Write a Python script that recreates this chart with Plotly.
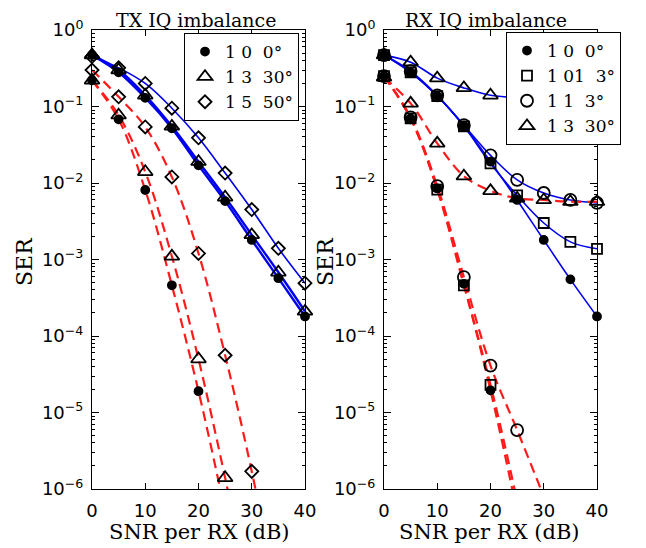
import plotly.graph_objects as go

# ---------------- data ----------------
snr_db = [0, 5, 10, 15, 20, 25, 30, 35, 40]

# TX IQ imbalance panel (blue solid = upper curves, red dashed = lower curves)
tx_labels = ["1\u00a00\u00a0\u00a00°", "1\u00a03\u00a0\u00a030°", "1\u00a05\u00a0\u00a050°"]
tx_symbols = ["circle", "triangle-up-open", "diamond-open"]
tx_blue = [
    [0.47, 0.28, 0.13, 0.052, 0.017, 0.0058, 0.0018, 5.7e-4, 1.8e-4],
    [0.47, 0.30, 0.14, 0.055, 0.019, 0.0065, 0.0021, 6.8e-4, 2.1e-4],
    [0.45, 0.32, 0.20, 0.095, 0.039, 0.0135, 0.0045, 0.0014, 4.9e-4],
]
tx_red = [
    [0.22, 0.068, 0.0081, 4.6e-4, 1.9e-5, 5e-7, 1e-8, None, None],
    [0.22, 0.077, 0.014, 1.1e-3, 5e-5, 1.4e-6, 3e-8, None, None],
    [0.30, 0.134, 0.054, 0.012, 1.2e-3, 5.6e-5, 1.7e-6, 3e-8, None],
]

# RX IQ imbalance panel
rx_labels = ["1\u00a00\u00a0\u00a00°", "1\u00a001\u00a0\u00a03°", "1\u00a01\u00a0\u00a03°", "1\u00a03\u00a0\u00a030°"]
rx_symbols = ["circle", "square-open", "circle-open", "triangle-up-open"]
rx_blue = [
    [0.47, 0.28, 0.137, 0.056, 0.019, 0.006, 0.0018, 5.5e-4, 1.8e-4],
    [0.47, 0.28, 0.137, 0.055, 0.018, 0.0069, 0.003, 0.0017, 0.00138],
    [0.47, 0.29, 0.14, 0.057, 0.023, 0.011, 0.0074, 0.006, 0.0055],
    [0.47, 0.38, 0.235, 0.175, 0.14, 0.13, 0.125, 0.12, 0.12],
]
rx_red = [
    [0.25, 0.07, 0.0085, 4.8e-4, 1.95e-5, 5e-7, 1e-8, None, None],
    [0.25, 0.07, 0.0082, 4.6e-4, 2.3e-5, 7e-7, 1.5e-8, None, None],
    [0.25, 0.072, 0.0091, 5.9e-4, 4.1e-5, 5.9e-6, 8e-7, None, None],
    [0.24, 0.11, 0.033, 0.0123, 0.0079, 0.0063, 0.006, 0.0057, 0.0057],
]

x_ticks = [0, 10, 20, 30, 40]
y_exponents = [-6, -5, -4, -3, -2, -1, 0]

# ---------------- styling ----------------
W, H = 646, 548
OFF = 8  # page body margin of the html page
SERIF = "DejaVu Serif"
SANS = "DejaVu Sans"
marker_sizes = {"circle": 8, "triangle-up-open": 13, "diamond-open": 10,
                "square-open": 10, "circle-open": 12}
YMIN = 10 ** y_exponents[0]


def px(xp):
    return (xp - OFF) / W


def py(yp):
    return 1 - (yp - OFF) / H


fig = go.Figure()


def add_panel(xa, ya, blue, red, symbols, labels, legend, blue_widths):
    for i, ys in enumerate(blue):
        fig.add_trace(go.Scatter(x=snr_db, y=ys, mode="lines", xaxis=xa, yaxis=ya,
                                 line=dict(color="#0000ee", width=blue_widths[i], shape="spline"),
                                 showlegend=False, hoverinfo="skip"))
    for i, ys in enumerate(red):
        fig.add_trace(go.Scatter(x=snr_db, y=ys, mode="lines", xaxis=xa, yaxis=ya,
                                 line=dict(color="#ff1a1a", width=2.2, shape="spline", dash="10px,6px"),
                                 showlegend=False, hoverinfo="skip", connectgaps=False))
    for group, show in ((red, False), (blue, True)):
        for i, ys in enumerate(group):
            sym = symbols[i]
            xs = [x for x, y in zip(snr_db, ys) if y is not None and y >= YMIN]
            yv = [y for y in ys if y is not None and y >= YMIN]
            fig.add_trace(go.Scatter(
                x=xs, y=yv, mode="markers", xaxis=xa, yaxis=ya, cliponaxis=False,
                marker=dict(symbol=sym, size=marker_sizes[sym], color="black",
                            line=dict(color="black", width=1.8)),
                name=labels[i], showlegend=show, legend=legend))


add_panel("x", "y", tx_blue, tx_red, tx_symbols, tx_labels, "legend", [2.4, 2.4, 1.6])
add_panel("x2", "y2", rx_blue, rx_red, rx_symbols, rx_labels, "legend2", [1.6, 1.6, 1.6, 1.6])

# ---------------- axes ----------------
minor_vals = [m * 10 ** e for e in y_exponents[:-1] for m in range(2, 10)]
ytext = ["10<sup>" + (("\u2212" + str(-e)) if e < 0 else str(e)) + "</sup>" for e in y_exponents]

xcommon = dict(range=[0, 40], tickmode="array", tickvals=x_ticks, ticks="inside", ticklen=6,
               tickcolor="black", showline=True, linecolor="black", linewidth=1,
               mirror="ticks", showgrid=False, zeroline=False,
               tickfont=dict(family=SANS, size=18, color="black"), ticklabelstandoff=5)
ycommon = dict(type="log", range=[-6, 0], tickmode="array",
               tickvals=[10 ** e for e in y_exponents], ticktext=ytext,
               ticks="inside", ticklen=7, tickcolor="black", showline=True, linecolor="black",
               linewidth=1, mirror="ticks", showgrid=False, zeroline=False,
               tickfont=dict(family=SANS, size=18, color="black"), ticklabelstandoff=4,
               minor=dict(tickmode="array", tickvals=minor_vals, ticks="inside", ticklen=3,
                          tickcolor="black", showgrid=False))

fig.update_layout(
    width=W, height=H, margin=dict(l=0, r=0, t=0, b=0, autoexpand=False),
    paper_bgcolor="white", plot_bgcolor="white",
    xaxis=dict(domain=[px(92), px(305)], anchor="y", **xcommon),
    yaxis=dict(domain=[py(489), py(30)], anchor="x", **ycommon),
    xaxis2=dict(domain=[px(384), px(597)], anchor="y2", **xcommon),
    yaxis2=dict(domain=[py(489), py(30)], anchor="x2", **ycommon),
    legend=dict(x=px(184), y=py(33), xanchor="left", yanchor="top",
                bgcolor="white", bordercolor="black", borderwidth=1,
                font=dict(family=SERIF, size=17, color="black"), tracegroupgap=0),
    legend2=dict(x=px(506), y=py(32), xanchor="left", yanchor="top",
                 bgcolor="white", bordercolor="black", borderwidth=1,
                 font=dict(family=SERIF, size=17, color="black"), tracegroupgap=0),
    showlegend=True,
)

for (cx, cy, txt, ang, size) in [
    (196, 20, "TX IQ imbalance", 0, 19),
    (486, 20, "RX IQ imbalance", 0, 19),
    (199, 532, "SNR per RX (dB)", 0, 21),
    (490, 532, "SNR per RX (dB)", 0, 21),
    (25, 262, "SER", -90, 22),
    (326, 262, "SER", -90, 22),
]:
    fig.add_annotation(x=px(cx), y=py(cy), xref="paper", yref="paper", text=txt,
                       showarrow=False, textangle=ang, xanchor="center", yanchor="middle",
                       font=dict(family=SERIF, size=size, color="black"))

fig.write_html("out.html")
